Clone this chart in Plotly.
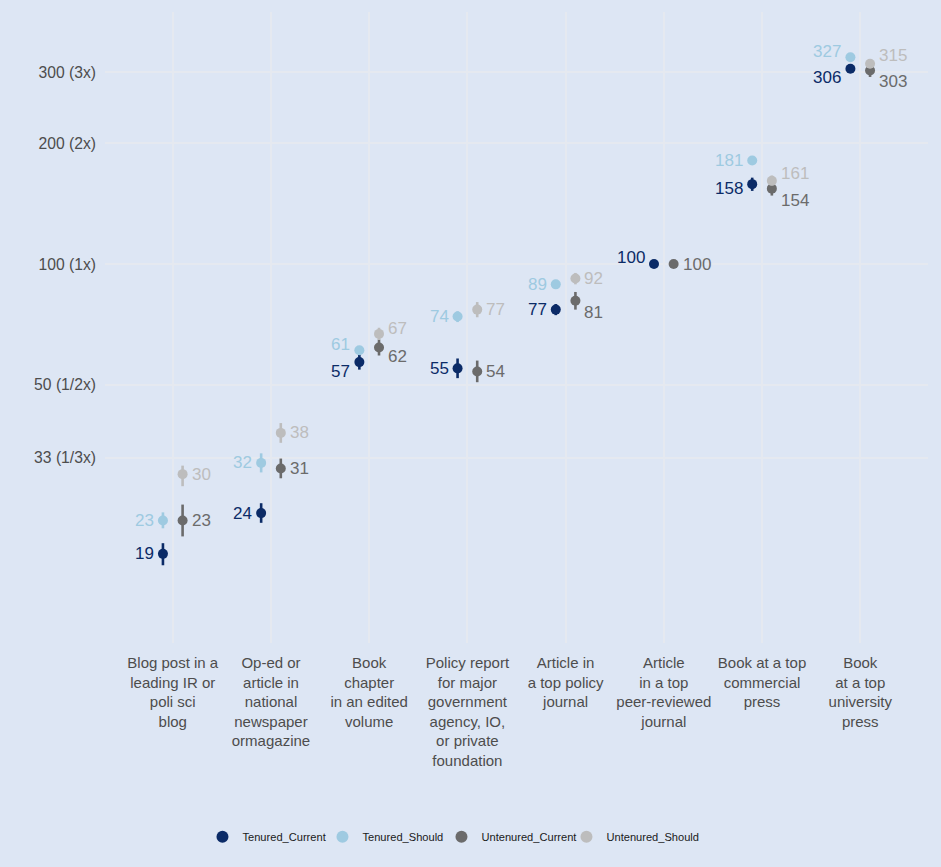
import math
import plotly.graph_objects as go

# Outlet categories (x axis) and the four respondent series
categories = [
    "Blog post in a<br>leading IR or<br>poli sci<br>blog",
    "Op-ed or<br>article in<br>national<br>newspaper<br>ormagazine",
    "Book<br>chapter<br>in an edited<br>volume",
    "Policy report<br>for major<br>government<br>agency, IO,<br>or private<br>foundation",
    "Article in<br>a top policy<br>journal",
    "Article<br>in a top<br>peer-reviewed<br>journal",
    "Book at a top<br>commercial<br>press",
    "Book<br>at a top<br>university<br>press",
]

series_names = ["Tenured_Current", "Tenured_Should", "Untenured_Current", "Untenured_Should"]

tenured_current = [19, 24, 57, 55, 77, 100, 158, 306]
tenured_current_lo = [17.8, 22.7, 54.6, 52.0, 74.6, 100, 152, 302]
tenured_current_hi = [20.2, 25.4, 59.5, 58.2, 79.5, 100, 164, 310]

tenured_should = [23, 32, 61, 74, 89, None, 181, 327]
tenured_should_lo = [22.0, 30.3, 59.8, 71.7, 87.0, None, 179, 325]
tenured_should_hi = [24.1, 33.8, 62.2, 76.3, 91.0, None, 183, 329]

untenured_current = [23, 31, 62, 54, 81, 100, 154, 303]
untenured_current_lo = [21.0, 29.3, 59.2, 50.8, 77.0, 100, 148, 292]
untenured_current_hi = [25.2, 32.8, 64.9, 57.5, 85.2, 100, 158, 308]

untenured_should = [30, 38, 67, 77, 92, None, 161, 315]
untenured_should_lo = [28.0, 35.9, 64.7, 73.7, 89.0, None, 157, 311]
untenured_should_hi = [31.5, 40.2, 69.4, 80.4, 95.0, None, 166, 319]

y_tick_vals = [33, 50, 100, 200, 300]
y_tick_text = ["33 (1/3x)", "50 (1/2x)", "100 (1x)", "200 (2x)", "300 (3x)"]

# Styling
colors = {
    "Tenured_Current": "#0b2b67",
    "Tenured_Should": "#9ecae1",
    "Untenured_Current": "#6b6b6b",
    "Untenured_Should": "#bdbdbd",
}
dodge = {"Tenured_Current": -0.1, "Tenured_Should": -0.1,
         "Untenured_Current": 0.1, "Untenured_Should": 0.1}
# legend entry widths (px)
legend_w = {"Tenured_Current": 75, "Tenured_Should": 74,
            "Untenured_Current": 80, "Untenured_Should": 96}
# vertical pixel nudges for the value labels (positive = up)
label_nudge = {
    "Tenured_Current":   [0, 0, -9, 0, 0, 7, -4, -9],
    "Tenured_Should":    [0, 0, 6, 0, 0, 0, 0, 6],
    "Untenured_Current": [0, 0, -9, 0, -12, 0, -12, -11],
    "Untenured_Should":  [0, 0, 5, 0, 0, 0, 7, 8],
}

data = {
    "Tenured_Current": (tenured_current, tenured_current_lo, tenured_current_hi),
    "Tenured_Should": (tenured_should, tenured_should_lo, tenured_should_hi),
    "Untenured_Current": (untenured_current, untenured_current_lo, untenured_current_hi),
    "Untenured_Should": (untenured_should, untenured_should_lo, untenured_should_hi),
}

BG = "#dde6f4"
GRID = "#e5e9f0"
FONT = "Liberation Sans, Arial, sans-serif"

fig = go.Figure()
annotations = []

for name in series_names:
    vals, lo, hi = data[name]
    xs, ys, plus, minus = [], [], [], []
    for i, v in enumerate(vals):
        if v is None:
            continue
        x = i + 1 + dodge[name]
        xs.append(x)
        ys.append(v)
        plus.append(hi[i] - v)
        minus.append(v - lo[i])
        left = dodge[name] < 0
        # annotations on a log axis take the log10 of the value
        annotations.append(dict(
            x=x, y=math.log10(v), xref="x", yref="y", showarrow=False,
            text=str(v),
            xanchor="right" if left else "left",
            yanchor="middle",
            xshift=-7 if left else 7,
            yshift=label_nudge[name][i],
            font=dict(family=FONT, size=17, color=colors[name]),
        ))
    fig.add_trace(go.Scatter(
        x=xs, y=ys, mode="markers", name=name,
        legendwidth=legend_w[name],
        marker=dict(color=colors[name], size=10, symbol="circle"),
        error_y=dict(type="data", symmetric=False, array=plus, arrayminus=minus,
                     color=colors[name], thickness=2.6, width=0),
    ))

fig.update_layout(
    width=941, height=867,
    margin=dict(l=105, r=13, t=12, b=224),
    paper_bgcolor=BG, plot_bgcolor=BG,
    font=dict(family=FONT, size=13, color="#4d4d4d"),
    showlegend=True,
    legend=dict(orientation="h", xref="container", yref="container",
                x=0.4835, y=0.035, xanchor="center", yanchor="middle",
                font=dict(size=11.1, color="#1a1a1a"), itemwidth=30,
                itemsizing="constant",
                bgcolor="rgba(0,0,0,0)"),
    annotations=annotations,
)

fig.update_xaxes(
    range=[0.31, 8.69],
    tickmode="array", tickvals=list(range(1, 9)), ticktext=categories,
    tickfont=dict(size=15, color="#4d4d4d"),
    showgrid=True, gridcolor=GRID, gridwidth=1.5,
    zeroline=False, showline=False, ticks="", ticklen=4,
    ticklabelstandoff=9,
)
fig.update_yaxes(
    type="log", range=[1.057, 2.627],
    tickmode="array", tickvals=y_tick_vals, ticktext=y_tick_text,
    tickfont=dict(size=15.7, color="#4d4d4d"),
    showgrid=True, gridcolor=GRID, gridwidth=1.5,
    zeroline=False, showline=False, ticks="", ticklen=8,
    ticklabelstandoff=8,
)

fig.write_html("out.html")
